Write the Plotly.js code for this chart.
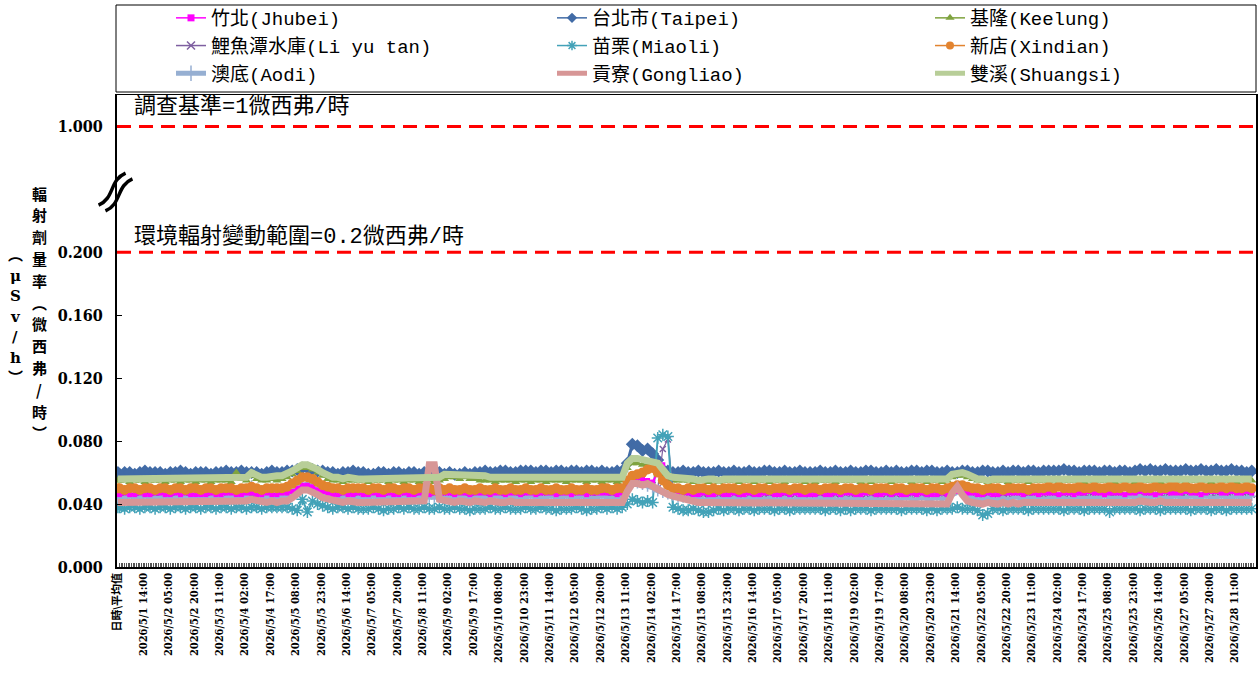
<!DOCTYPE html>
<html><head><meta charset="utf-8">
<script src="https://cdn.plot.ly/plotly-3.0.1.min.js"></script>
<style>html,body{margin:0;padding:0;background:#fff}#chart{width:1260px;height:678px}</style>
</head><body><div id="chart"></div>
<script>
// ---------------- categories & tick labels ----------------
const AVG_LABEL = '日時\\平均值';
const YEAR = 2026, MONTH = 5, DAYS = 28;
const categories = [AVG_LABEL];
for (let d = 1; d <= DAYS; d++) for (let h = 0; h < 24; h++)
  categories.push(YEAR + '/' + MONTH + '/' + d + ' ' + String(h).padStart(2, '0') + ':00');

const tickLabels = [AVG_LABEL,
 '2026/5/1 14:00','2026/5/2 05:00','2026/5/2 20:00','2026/5/3 11:00','2026/5/4 02:00','2026/5/4 17:00',
 '2026/5/5 08:00','2026/5/5 23:00','2026/5/6 14:00','2026/5/7 05:00','2026/5/7 20:00','2026/5/8 11:00',
 '2026/5/9 02:00','2026/5/9 17:00','2026/5/10 08:00','2026/5/10 23:00','2026/5/11 14:00','2026/5/12 05:00',
 '2026/5/12 20:00','2026/5/13 11:00','2026/5/14 02:00','2026/5/14 17:00','2026/5/15 08:00','2026/5/15 23:00',
 '2026/5/16 14:00','2026/5/17 05:00','2026/5/17 20:00','2026/5/18 11:00','2026/5/19 02:00','2026/5/19 17:00',
 '2026/5/20 08:00','2026/5/20 23:00','2026/5/21 14:00','2026/5/22 05:00','2026/5/22 20:00','2026/5/23 11:00',
 '2026/5/24 02:00','2026/5/24 17:00','2026/5/25 08:00','2026/5/25 23:00','2026/5/26 14:00','2026/5/27 05:00',
 '2026/5/27 20:00','2026/5/28 11:00'];

const yTickVals = [0, 0.04, 0.08, 0.12, 0.16, 0.2, 0.28];
const yTickText = ['0.000','0.040','0.080','0.120','0.160','0.200','1.000'];
const LIMIT_ENV = 0.2;      // 0.2 µSv/h
const LIMIT_STD_POS = 0.28; // 1 µSv/h drawn above the axis break

const yTitleMain = '輻射劑量率︵微西弗/時︶';
const yTitleUnit = '︵μSv/h︶';

// ---------------- data (0.001 µSv/h), readings every 3 h: 00,03,...,21 ----------------
const SAMPLE_STEP = 3;
const stationNames = ['竹北(Jhubei)','台北市(Taipei)','基隆(Keelung)','鯉魚潭水庫(Li yu tan)','苗栗(Miaoli)',
  '新店(Xindian)','澳底(Aodi)','貢寮(Gongliao)','雙溪(Shuangsi)'];
const stationAverages = [47, 60, 55, 46, 38, 50, 44, 41, 56];

const jhubei = [
46,47,46,46,47,46,46,47, 47,46,46,47,46,47,46,46, 46,46,47,46,46,47,47,46, 46,47,47,46,46,47,46,46,
47,47,48,50,52,52,51,49, 48,47,46,46,47,46,46,47, 46,46,47,46,46,47,46,46, 47,46,46,47,46,46,47,46,
47,47,46,47,47,46,47,47, 47,46,47,47,46,47,47,46, 47,47,46,47,47,47,46,47, 47,46,47,47,46,47,47,47,
47,47,46,47,52,58,57,56, 55,54,60,65,52,49,48,47, 47,46,46,47,46,46,47,46, 46,47,46,46,47,46,46,47,
47,46,46,47,46,47,46,46, 46,46,47,46,46,47,46,47, 47,46,46,47,47,46,46,47, 46,47,46,46,47,46,47,46,
46,46,47,46,47,48,48,47, 47,46,46,47,46,46,47,47, 47,47,46,47,47,46,47,47, 47,46,47,47,46,47,47,48,
47,47,46,47,47,47,46,47, 47,48,47,47,46,47,48,47, 47,47,48,47,47,46,47,48, 48,47,47,48,47,47,48,47];

const taipei = [
59,60,60,59,60,61,60,60, 60,59,60,60,61,60,59,60, 60,60,59,60,60,61,60,60, 61,60,60,60,59,60,61,60,
60,61,61,62,63,63,62,61, 61,60,60,59,60,60,61,60, 60,59,59,60,60,59,60,60, 59,60,60,59,60,60,59,60,
59,60,59,59,60,59,60,60, 61,60,60,61,61,60,60,61, 61,61,60,61,61,60,61,61, 60,61,61,60,61,61,60,61,
60,60,61,61,66,78,77,74, 75,72,68,62,61,60,60,61, 60,60,61,60,60,60,61,60, 60,61,60,60,61,60,60,61,
61,60,60,61,60,60,61,60, 60,60,61,60,60,61,60,60, 61,60,60,61,61,60,60,61, 60,61,60,60,61,61,60,61,
61,60,60,61,60,60,61,61, 60,60,61,61,60,60,61,60, 61,61,60,61,61,60,61,61, 61,61,62,61,61,60,61,61,
61,60,61,61,60,61,61,60, 61,62,61,62,61,61,62,61, 61,61,62,61,61,62,61,61, 62,61,61,62,61,61,60,61];

const keelung = [
55,55,54,55,55,54,55,55, 55,54,55,55,54,55,55,54, 55,55,54,55,55,55,54,60, 56,55,58,56,55,55,56,55,
56,57,59,61,63,63,62,60, 58,56,55,55,54,55,55,55, 55,54,55,55,55,54,55,55, 54,55,55,54,55,55,54,55,
56,57,57,56,57,56,56,55, 55,55,54,55,55,55,54,55, 55,54,55,55,54,55,55,55, 54,55,55,55,54,55,55,54,
55,55,54,55,63,66,66,65, 65,64,62,59,56,55,55,55, 55,54,55,55,54,55,54,55, 55,55,54,55,55,54,55,55,
54,55,55,54,55,55,55,54, 55,54,55,55,55,54,55,55, 55,55,54,55,54,55,55,55, 54,55,55,55,54,55,55,54,
55,55,54,55,57,58,58,57, 56,55,55,54,55,55,55,54, 55,55,55,54,55,55,55,55, 55,54,55,55,55,55,54,55,
55,55,55,55,54,55,55,55, 54,55,55,55,55,54,55,55, 55,55,54,55,55,55,55,54, 55,55,55,55,54,55,55,55];

const liyutan = [
45,46,45,45,46,45,46,45, 46,45,45,46,45,46,45,45, 45,46,45,45,46,46,45,46, 46,45,46,45,45,46,45,45,
46,46,47,49,50,51,50,48, 47,46,45,46,45,45,46,45, 45,46,45,45,46,45,45,46, 46,45,46,45,46,46,45,46,
46,46,45,46,46,45,46,46, 46,45,46,46,45,46,46,45, 46,46,45,46,46,46,45,46, 45,46,46,45,46,46,45,46,
46,45,46,46,50,54,55,54, 53,52,50,75,81,49,47,46, 46,45,46,46,45,46,46,45, 46,46,45,46,46,45,46,46,
45,46,46,45,46,46,46,45, 46,46,45,46,45,46,46,46, 46,45,46,46,46,45,46,46, 45,46,46,46,45,46,46,45,
46,46,45,46,47,49,48,47, 46,46,45,46,46,46,45,46, 46,46,46,45,46,46,46,46, 46,45,46,46,46,46,45,46,
46,46,46,45,46,46,46,46, 45,46,46,46,46,45,46,46, 46,46,45,46,46,46,46,45, 46,46,46,46,45,46,46,46];

const miaoli = [
38,37,38,38,37,38,38,37, 38,38,37,38,38,37,38,38, 37,38,38,37,38,38,37,38, 38,37,38,38,37,38,38,38,
38,38,37,36,43,35,42,40, 39,38,37,38,38,37,38,37, 37,37,38,37,36,37,37,38, 37,38,37,37,38,37,37,38,
37,37,38,37,37,36,37,37, 37,38,37,37,38,37,37,37, 38,37,37,38,37,37,36,37, 37,37,38,37,36,37,37,38,
37,38,37,38,40,43,42,41, 42,41,82,84,83,38,37,36, 36,37,36,35,35,36,37,36, 37,37,36,37,37,36,37,37,
37,36,37,37,36,37,37,37, 37,37,37,36,37,37,36,37, 36,37,37,37,36,37,37,37, 37,37,36,37,37,37,37,36,
37,36,37,37,37,38,37,37, 37,36,33,34,37,37,36,37, 37,37,37,36,37,37,37,37, 37,37,36,37,37,37,36,37,
37,37,37,35,37,37,37,37, 37,36,37,37,37,36,37,37, 37,37,37,36,37,37,37,36, 37,37,36,37,37,37,37,37];

const xindian = [
50,49,50,50,49,50,50,49, 50,50,49,50,50,49,50,50, 49,50,50,49,50,50,50,49, 50,50,51,50,49,50,50,50,
50,51,53,55,57,57,56,54, 52,51,50,50,49,50,50,50, 50,49,50,50,49,50,50,49, 50,50,49,50,50,50,49,50,
49,50,49,49,50,49,49,50, 49,49,50,49,49,50,49,49, 50,49,49,50,49,49,50,49, 49,50,49,49,50,49,49,50,
50,49,50,50,55,58,59,60, 62,63,60,55,52,50,50,49, 50,49,50,50,49,50,49,50, 50,50,49,50,50,49,50,50,
49,50,50,50,49,50,50,49, 50,50,49,50,50,50,49,50, 50,49,50,50,49,50,50,50, 49,50,50,49,50,50,50,49,
50,50,49,50,51,52,52,51, 50,50,49,50,50,50,49,50, 50,50,50,49,50,50,50,51, 50,51,50,50,50,51,50,50,
51,50,50,51,50,50,51,50, 50,51,50,50,51,50,50,51, 51,50,51,50,50,51,50,50, 50,51,50,51,50,50,51,50];

const aodi = [
44,44,45,44,44,45,44,44, 44,45,44,44,45,44,44,45, 45,44,44,45,44,44,45,44, 44,45,52,46,45,44,45,44,
45,45,47,50,52,53,52,49, 47,46,45,44,44,45,44,44, 44,44,45,44,44,44,45,44, 44,45,44,44,45,44,44,44,
44,44,44,45,44,44,44,45, 44,44,45,44,44,45,44,44, 44,45,44,44,44,45,44,44, 45,44,44,45,44,44,44,45,
44,44,44,45,50,53,53,52, 51,50,48,47,46,45,44,44, 44,43,44,43,43,44,43,44, 43,44,43,43,44,43,44,43,
44,43,43,44,43,43,44,43, 43,43,44,43,44,43,43,44, 43,44,43,43,44,43,43,43, 44,43,43,44,43,43,44,43,
43,44,43,44,46,49,47,45, 44,43,43,44,43,43,44,43, 44,44,43,44,44,44,43,44, 44,44,44,43,44,44,44,44,
44,44,45,44,44,44,44,45, 44,45,44,44,45,44,44,44, 45,44,44,45,44,44,45,44, 44,45,44,44,45,44,44,45];

const gongliao = [
41,41,42,41,41,42,41,41, 41,42,41,41,42,41,41,42, 42,41,41,42,41,41,42,41, 41,42,43,42,41,41,42,41,
42,42,44,47,49,49,48,46, 44,43,42,41,41,42,41,41, 41,41,42,41,41,42,41,41, 41,42,41,41,42,65,65,43,
42,41,41,42,41,41,42,41, 41,42,41,41,41,42,41,41, 42,41,41,41,42,41,41,42, 41,41,42,41,41,41,42,41,
41,41,42,41,48,53,53,52, 53,51,49,48,46,45,44,43, 42,42,41,41,41,40,41,40, 40,41,40,40,41,40,40,41,
40,40,41,40,40,41,40,40, 41,40,40,41,40,40,40,41, 40,40,41,40,40,41,40,40, 40,41,40,40,41,40,40,40,
40,41,40,40,47,51,46,42, 41,40,40,41,40,40,41,40, 41,40,41,41,40,41,41,40, 41,41,40,41,41,40,41,41,
41,41,41,40,41,41,41,41, 41,42,41,41,41,42,41,41, 41,41,42,41,41,41,42,41, 42,41,41,42,41,41,42,41];

const shuangsi = [
56,56,57,56,56,57,56,56, 56,57,56,56,57,56,56,57, 57,56,56,57,56,56,57,57, 57,57,60,58,57,57,58,58,
58,59,61,63,65,65,64,62, 60,58,57,57,56,57,56,56, 56,56,56,57,56,56,56,56, 56,56,56,56,57,56,57,57,
59,59,59,59,59,58,59,58, 58,57,57,57,57,56,57,57, 56,56,56,56,57,56,56,56, 56,56,57,56,56,56,57,56,
56,56,57,57,66,69,69,68, 68,67,66,62,58,57,57,56, 56,56,55,56,56,56,55,56, 56,55,56,56,55,56,56,56,
56,56,55,56,56,55,56,56, 55,56,56,56,55,56,56,55, 56,56,56,55,56,56,55,56, 56,55,56,56,56,55,56,56,
56,56,56,56,59,60,60,59, 57,56,56,55,56,56,56,55, 56,56,55,56,56,56,56,56, 56,56,56,55,56,56,56,56,
55,56,56,56,56,55,56,56, 56,56,55,56,56,56,55,56, 56,55,56,56,56,56,56,55, 56,56,56,55,56,56,56,56];

const stationValues = [jhubei, taipei, keelung, liyutan, miaoli, xindian, aodi, gongliao, shuangsi];

// ---------------- styles ----------------
const stationColors = ['#FF00FF','#416BA6','#7FA33F','#7E5FA0','#43A2B8','#E2832F','#96AFD2','#D79696','#B8CE98'];
const markerSymbols = ['square','diamond','triangle-up','x-thin-open','asterisk-open','circle','cross-thin-open',null,null];
const markerSizes = [5, 10, 8, 6, 10, 10, 7, 0, 0];
const lineWidths = [2, 3, 2, 1.2, 2, 4, 4, 7, 7];
const legendMarkerSizes = [7, 8, 8, 8, 8, 8, 11, 0, 0];
const legendLineWidths = [1.5, 1.5, 1.5, 1.5, 1.5, 1.5, 5, 5, 5];
const legendIds = ['legend','legend2','legend3','legend','legend2','legend3','legend','legend2','legend3'];
const drawOrder = [1, 2, 3, 4, 6, 0, 5, 7, 8]; // stacking of the data lines (last on top)

const FONT_TXT = 'Liberation Mono, Noto Sans CJK TC, monospace';
const FONT_TICK = 'DejaVu Serif Condensed, DejaVu Serif, Liberation Serif, Noto Sans CJK TC, serif';

function styled(i, lw, ms, extra) {
  const t = Object.assign({
    type: 'scatter', name: stationNames[i], legend: legendIds[i],
    mode: markerSymbols[i] ? 'lines+markers' : 'lines',
    line: { color: stationColors[i], width: lw }, hoverinfo: 'skip'
  }, extra);
  if (markerSymbols[i]) t.marker = { symbol: markerSymbols[i], size: ms, color: stationColors[i],
      line: { color: stationColors[i], width: markerSymbols[i].includes('open') ? 1.5 : 0 } };
  return t;
}

const dataTraces = drawOrder.map(i => {
  const x = [AVG_LABEL], y = [stationAverages[i] / 1000];
  stationValues[i].forEach((v, k) => { x.push(categories[1 + SAMPLE_STEP * k]); y.push(v / 1000); });
  return styled(i, lineWidths[i], markerSizes[i], { x, y, showlegend: false });
});
// legend swatches (no data points), in legend order
const legendTraces = stationNames.map((name, i) =>
  styled(i, legendLineWidths[i], legendMarkerSizes[i], { x: [null], y: [null], showlegend: true }));

// ---------------- geometry helpers (pixel -> paper) ----------------
const M = { l: 117, r: 4, t: 95, b: 111, autoexpand: false };
const PW = 1260 - M.l - M.r, PH = 678 - M.t - M.b;
const px = x => (x - M.l) / PW;
const py = y => (678 - M.b - y) / PH;

const tickText = categories.map(c => tickLabels.includes(c) ? c : '');

// axis-break mark: a tilted tilde (cubic S-curve) in pixel space, converted to paper
function tilde(x0, y0, x1, y1, amp, off) {
  const dx = x1 - x0, dy = y1 - y0, L = Math.hypot(dx, dy);
  const ux = dx / L, uy = dy / L, nx = -uy, ny = ux;
  const P = (t, v) => [x0 + ux * L * t + nx * v, y0 + uy * L * t + ny * v];
  const p0 = P(0, off), c1 = P(0.38, off + amp), c2 = P(0.62, off - amp), p3 = P(1, off);
  const f = p => px(p[0]) + ',' + py(p[1]);
  return 'M ' + f(p0) + ' C ' + f(c1) + ' ' + f(c2) + ' ' + f(p3);
}

// vertical (stacked) text: one annotation per character
function verticalText(str, xPix, yTop, pitch, font) {
  return Array.from(str).map((ch, k) => ({
    xref: 'paper', yref: 'paper', x: px(xPix), y: py(yTop + k * pitch), xanchor: 'center', yanchor: 'middle',
    showarrow: false, text: '<b>' + ch + '</b>', font
  }));
}

const legendCommon = { orientation: 'v', bgcolor: 'rgba(0,0,0,0)', borderwidth: 0,
  font: { family: FONT_TXT, size: 19, color: '#000' }, itemwidth: 30, yanchor: 'top', xanchor: 'left',
  y: py(-1), itemclick: false, itemdoubleclick: false, tracegroupgap: 0 };

const layout = {
  width: 1260, height: 678, margin: M, paper_bgcolor: '#fff', plot_bgcolor: '#fff',
  showlegend: true,
  legend: Object.assign({}, legendCommon, { x: px(171) }),
  legend2: Object.assign({}, legendCommon, { x: px(552) }),
  legend3: Object.assign({}, legendCommon, { x: px(930) }),
  xaxis: {
    type: 'category', categoryorder: 'array', categoryarray: categories,
    range: [-0.5, categories.length - 0.5],
    tickmode: 'array', tickvals: categories, ticktext: tickText, tickangle: -90,
    ticks: 'inside', ticklen: 4, tickwidth: 1, tickcolor: '#555',
    tickfont: { family: FONT_TICK, size: 11, color: '#000', weight: 'bold' },
    showline: true, linecolor: '#000', linewidth: 1.5, mirror: true, showgrid: false, zeroline: false
  },
  yaxis: {
    range: [0, 0.3], tickmode: 'array', tickvals: yTickVals, ticktext: yTickText,
    ticks: 'inside', ticklen: 5, tickcolor: '#000', ticklabelstandoff: 9,
    tickfont: { family: FONT_TICK, size: 16, color: '#000', weight: 'bold' },
    showline: true, linecolor: '#000', linewidth: 2, mirror: true, showgrid: false, zeroline: false
  },
  shapes: [
    { type: 'rect', xref: 'paper', yref: 'paper', x0: px(116), x1: px(1256), y0: py(92), y1: py(5),
      line: { color: '#000', width: 1 }, fillcolor: 'rgba(0,0,0,0)' },
    { type: 'line', xref: 'paper', yref: 'y', x0: 0, x1: 1, y0: LIMIT_ENV, y1: LIMIT_ENV,
      line: { color: '#FF0000', width: 3, dash: '14px,8px' } },
    { type: 'line', xref: 'paper', yref: 'y', x0: 0, x1: 1, y0: LIMIT_STD_POS, y1: LIMIT_STD_POS,
      line: { color: '#FF0000', width: 3, dash: '14px,8px' } },
    { type: 'path', xref: 'paper', yref: 'paper', line: { color: '#000', width: 3.5 },
      path: tilde(102, 208, 129, 176, 8, -4.5) },
    { type: 'path', xref: 'paper', yref: 'paper', line: { color: '#000', width: 3.5 },
      path: tilde(102, 208, 129, 176, 8, 4.5) }
  ],
  annotations: [
    { xref: 'paper', yref: 'paper', x: px(132), y: py(107), xanchor: 'left', yanchor: 'middle', showarrow: false,
      text: '調查基準=1微西弗/時', font: { family: FONT_TXT, size: 22, color: '#000' } },
    { xref: 'paper', yref: 'paper', x: px(132), y: py(237), xanchor: 'left', yanchor: 'middle', showarrow: false,
      text: '環境輻射變動範圍=0.2微西弗/時', font: { family: FONT_TXT, size: 22, color: '#000' } }
  ].concat(
    verticalText(yTitleMain, 39, 193, 21.8, { family: 'Noto Sans CJK TC', size: 15, color: '#000' }),
    verticalText(yTitleUnit, 15, 255, 20.5, { family: 'DejaVu Serif, Noto Sans CJK TC', size: 15, color: '#000' })
  )
};

Plotly.newPlot('chart', dataTraces.concat(legendTraces), layout, { staticPlot: true, displayModeBar: false });
</script>
</body></html>
